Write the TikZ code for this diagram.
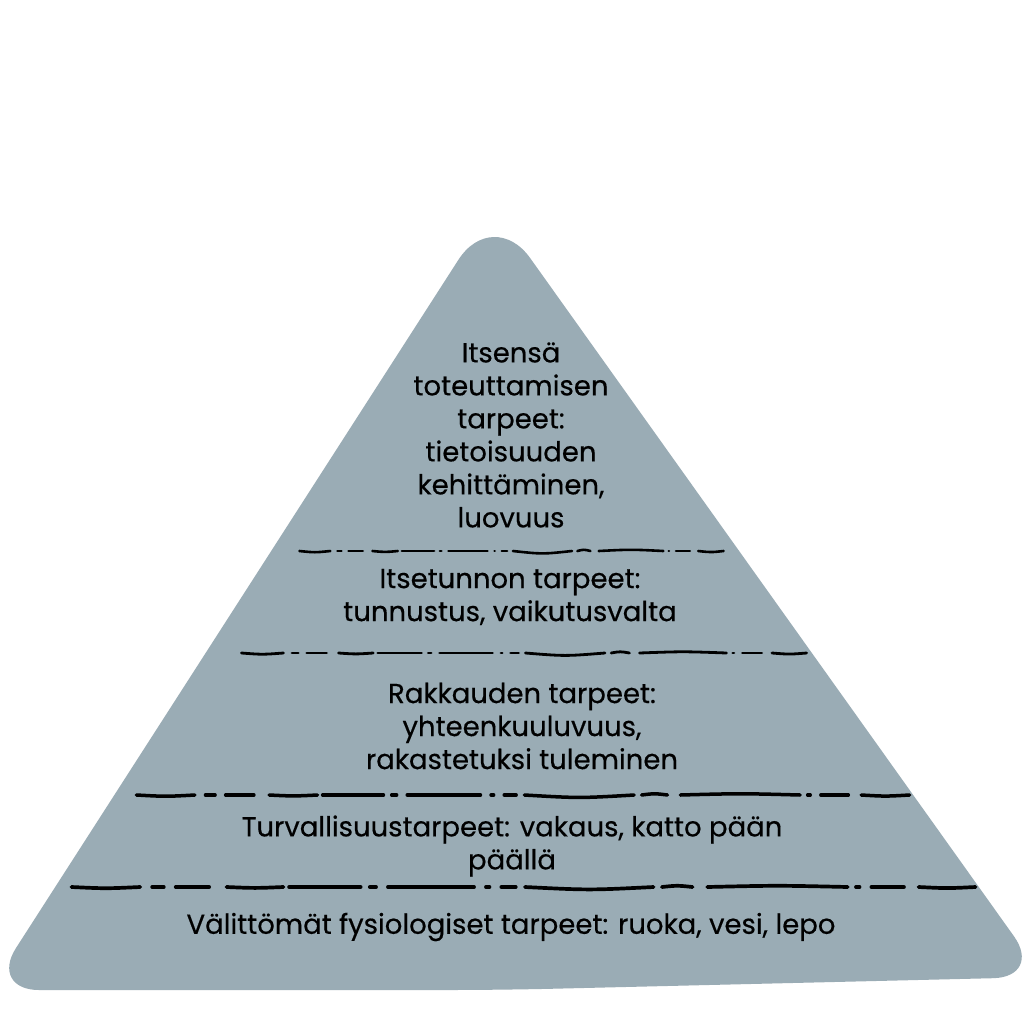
\documentclass[tikz,border=0pt]{standalone}
\usepackage{fontspec}
\setmainfont{Poppins}[FakeBold=0.4]
\definecolor{pyr}{RGB}{154,172,181}
\newcommand\hdline[4]{%
  \foreach \a/\b/\d in {0/0.079/0.8,0.089/0.105/0,0.115/0.155/0,0.171/0.237/0.6,0.240/0.322/-0.3,0.329/0.339/0,0.349/0.447/0,0.457/0.464/0,0.474/0.493/0,0.500/0.645/1.6,0.651/0.688/-0.8,0.701/0.859/-0.8,0.865/0.872/0,0.882/0.921/0,0.934/1.0/0.7}{%
    \draw[hd, line width=#4] ({#1+\a*(#2-#1)+1.4},#3) .. controls ({#1+(\a+\b)/2*(#2-#1)},{#3+2*\d}) .. ({#1+\b*(#2-#1)-1.4},#3);
  }}
\tikzset{
  lbl/.style={align=center, text=black, font=\fontsize{27.5}{33}\selectfont, inner sep=0pt},
  hd/.style={draw=black, line cap=round}
}
\begin{document}
\begin{tikzpicture}[x=1pt,y=-1pt]
\useasboundingbox (0,0) rectangle (1024,1024);
\fill[white] (0,0) rectangle (1024,1024);
\fill[pyr] (500,990) [rounded corners=50] -- (-11,990) [rounded corners=64] -- (493,206) [rounded corners=50] -- (1043,977) -- cycle;
\hdline{298}{725}{551}{2.6pt}
\hdline{240}{808}{653}{2.8pt}
\hdline{135}{911}{795}{3.5pt}
\hdline{70}{977}{887}{3.7pt}
\node[lbl] (n1) at (511,435) {Itsensä\\toteuttamisen\\tarpeet:\\tietoisuuden\\kehittäminen,\\luovuus};
\node[lbl] (n2) at (510,597) {Itsetunnon tarpeet:\\tunnustus, vaikutusvalta};
\node[lbl] (n3) at (522,726) {Rakkauden tarpeet:\\yhteenkuuluvuus,\\rakastetuksi tuleminen};
\node[lbl] (n4) at (512,846) {Turvallisuustarpeet: vakaus, katto pään\\päällä};
\node[lbl] (n5) at (511,927) {Välittömät fysiologiset tarpeet: ruoka, vesi, lepo};
\end{tikzpicture}
\end{document}
